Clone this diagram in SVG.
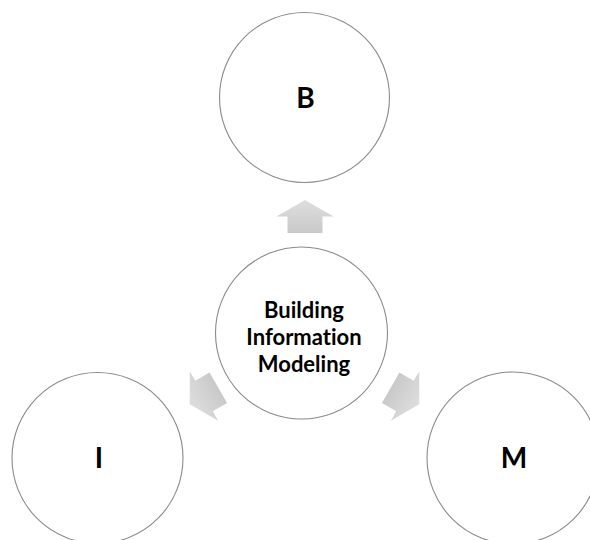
<svg xmlns="http://www.w3.org/2000/svg" width="590" height="540" viewBox="0 0 590 540">
  <style>
    .node { fill: #ffffff; stroke: #8a8a8a; stroke-width: 1.1; }
    .label { font-family: Lato, "Open Sans", "Liberation Sans", sans-serif; font-weight: bold; fill: #000000; text-anchor: middle; font-variant-ligatures: none; font-feature-settings: "liga" 0; }
    .big { font-size: 28px; }
    .mid { font-size: 22px; }
    .arrow { fill: url(#arrowFill); }
  </style>
  <defs>
    <linearGradient id="arrowFill" x1="0" y1="0" x2="0" y2="1">
      <stop offset="0" stop-color="#dedede"/>
      <stop offset="1" stop-color="#c9c9c9"/>
    </linearGradient>
    <!-- block arrow pointing up, centred on the origin -->
    <path id="blockArrow" d="M0,-16.5 L28.5,0 L17.5,0 L17.5,16.5 L-17.5,16.5 L-17.5,0 L-28.5,0 Z"/>
  </defs>
  <rect width="590" height="540" fill="#ffffff"/>

  <g id="connectors">
    <use href="#blockArrow" class="arrow" transform="translate(305,216.5)"/>
    <use href="#blockArrow" class="arrow" transform="translate(204,396) rotate(-120)"/>
    <use href="#blockArrow" class="arrow" transform="translate(405,396) rotate(120)"/>
  </g>

  <g id="node-b">
    <circle class="node" cx="304.5" cy="97.5" r="85"/>
    <text class="label big" x="305.5" y="107.5">B</text>
  </g>

  <g id="node-bim">
    <circle class="node" cx="301.5" cy="333" r="86"/>
    <text class="label mid" x="304" y="317.5">Building</text>
    <text class="label mid" x="304" y="344.5">Information</text>
    <text class="label mid" x="304" y="371.5">Modeling</text>
  </g>

  <g id="node-i">
    <circle class="node" cx="97.5" cy="458" r="85.5"/>
    <text class="label big" x="99" y="467.5">I</text>
  </g>

  <g id="node-m">
    <circle class="node" cx="513" cy="458" r="86"/>
    <text class="label big" x="514" y="467.5">M</text>
  </g>
</svg>
